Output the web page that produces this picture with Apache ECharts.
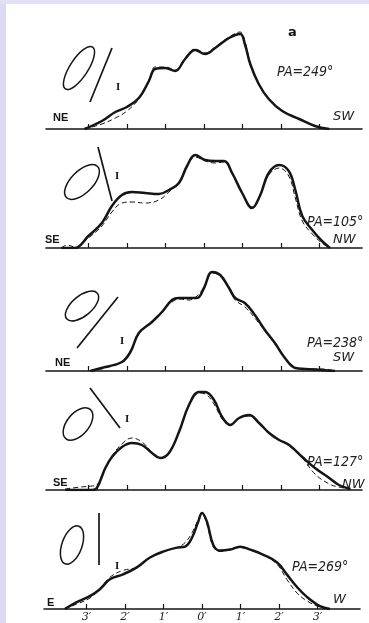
<!DOCTYPE html>
<html>
<head>
<meta charset="utf-8">
<script src="https://cdn.jsdelivr.net/npm/echarts@6/dist/echarts.min.js"></script>
<style>
  html, body { margin: 0; padding: 0; background: #fff; }
  #chart { width: 369px; height: 623px; }
</style>
</head>
<body>
<div id="chart"></div>
<script>
// offsets in arcmin, intensity in % of panel height
var p1X = [-3.1, -2.65, -2.3, -2.0, -1.69, -1.43, -1.27, -1.0, -0.75, -0.49, -0.23, 0.03, 0.29, 0.65, 0.94, 1.06, 1.2, 1.42, 1.68, 2.03, 2.47, 2.88, 3.25];
var p1Solid = [0, 8, 17, 22, 31, 48, 60, 61, 58, 70, 79, 75, 81, 91, 95, 85, 65, 45, 30, 18, 10, 3, 0];
var p1Dash = [0, 5, 11, 18, 30, 47, 62, 62, 59, 71, 80, 76, 82, 92, 97, 88, 66, 45, 30, 18, 10, 3, 0];

var p2X = [-3.7, -3.55, -3.35, -3.0, -2.65, -2.39, -2.13, -1.87, -1.53, -1.17, -0.91, -0.65, -0.44, -0.23, 0.03, 0.29, 0.52, 0.73, 0.99, 1.25, 1.45, 1.68, 1.95, 2.2, 2.37, 2.55, 2.81, 3.06, 3.27];
var p2Solid = [0, 0, 0, 12, 25, 42, 53, 56, 55, 54, 58, 65, 82, 93, 88, 87, 87, 75, 55, 40, 52, 75, 83, 77, 58, 32, 18, 7, 0];
var p2Dash = [0, 3, 1, 10, 22, 36, 45, 46, 45, 48, 56, 66, 82, 91, 87, 85, 86, 74, 55, 41, 53, 73, 80, 72, 50, 27, 14, 5, 0];

var p3X = [-2.95, -2.56, -2.13, -1.91, -1.69, -1.35, -1.09, -0.83, -0.65, -0.39, -0.18, 0, 0.21, 0.42, 0.65, 0.81, 1.06, 1.32, 1.58, 1.84, 2.1, 2.37, 2.63, 3.06, 3.4];
var p3Solid = [0, 4, 9, 19, 38, 49, 59, 71, 73, 73, 73, 83, 99, 96, 83, 73, 68, 56, 41, 28, 13, 3, 2, 1, 0];
var p3Dash = [0, 3, 9, 20, 37, 50, 60, 69, 72, 71, 75, 84, 98, 95, 82, 71, 64, 53, 40, 27, 13, 4, 2, 2, 0];

var p4X = [-3.6, -3.2, -2.9, -2.78, -2.56, -2.39, -2.13, -1.87, -1.61, -1.35, -1.14, -0.91, -0.65, -0.39, -0.13, 0.03, 0.26, 0.47, 0.68, 0.91, 1.17, 1.43, 1.69, 1.95, 2.21, 2.55, 2.88, 3.25, 3.5, 3.8];
var p4Solid = [0, 0, 0, 2, 22, 33, 43, 47, 45, 37, 32, 37, 58, 85, 98, 98, 90, 73, 65, 72, 75, 67, 57, 50, 45, 33, 22, 12, 5, 1];
var p4Dash = [1, 3, 4, 5, 22, 34, 46, 52, 48, 38, 32, 37, 58, 85, 97, 96, 86, 71, 65, 72, 74, 66, 57, 50, 44, 32, 16, 6, 3, 1];

var p5X = [-3.56, -3.25, -2.91, -2.65, -2.39, -2.05, -1.69, -1.35, -1.01, -0.65, -0.44, -0.26, -0.1, 0, 0.13, 0.29, 0.47, 0.73, 0.99, 1.25, 1.58, 1.95, 2.2, 2.47, 2.73, 3.06, 3.32];
var p5Solid = [0, 7, 13, 20, 30, 35, 42, 52, 58, 62, 63, 72, 88, 97, 88, 65, 59, 60, 63, 60, 55, 47, 35, 22, 12, 3, 0];
var p5Dash = [0, 5, 11, 20, 32, 39, 42, 52, 58, 62, 67, 77, 90, 96, 85, 63, 58, 60, 62, 60, 55, 45, 30, 16, 8, 2, 0];

var tickValues = [-3, -2, -1, 0, 1, 2, 3];
var paLabels = ['PA=249°', 'PA=105°', 'PA=238°', 'PA=127°', 'PA=269°'];
var leftDirs = ['NE', 'SE', 'NE', 'SE', 'E'];
var rightDirs = ['SW', 'NW', 'SW', 'NW', 'W'];

var panels = [
    {x: p1X, solid: p1Solid, dash: p1Dash},
    {x: p2X, solid: p2Solid, dash: p2Dash},
    {x: p3X, solid: p3Solid, dash: p3Dash},
    {x: p4X, solid: p4Solid, dash: p4Dash},
    {x: p5X, solid: p5Solid, dash: p5Dash}
];

var baselines = [129, 248, 371, 490, 610];
var lefts = [46, 46, 46, 46, 44];
var ink = '#151515';

function pairs(xs, ys) {
    return xs.map(function (x, i) { return [x, ys[i]]; });
}

var grids = [], xAxes = [], yAxes = [], series = [];
panels.forEach(function (p, i) {
    grids.push({left: lefts[i], top: baselines[i] - 100, width: 316, height: 100});
    xAxes.push({
        type: 'value', gridIndex: i, min: -4.1, max: 4.1,
        axisLine: {lineStyle: {color: ink, width: 1.6}},
        axisTick: {customValues: tickValues, inside: true, length: 5, lineStyle: {color: ink, width: 1.2}},
        axisLabel: {
            show: i === 4, customValues: tickValues, margin: 3,
            fontSize: 11, fontStyle: 'italic', color: '#222', fontFamily: 'DejaVu Serif',
            formatter: function (v) { return Math.abs(v) + '′'; }
        },
        splitLine: {show: false}
    });
    yAxes.push({type: 'value', gridIndex: i, min: 0, max: 100, show: false});
    series.push({
        type: 'line', xAxisIndex: i, yAxisIndex: i, data: pairs(p.x, p.dash),
        symbol: 'none', smooth: 0.4, z: 2,
        lineStyle: {color: ink, width: 1, type: [5, 3]}
    });
    series.push({
        type: 'line', xAxisIndex: i, yAxisIndex: i, data: pairs(p.x, p.solid),
        symbol: 'none', smooth: 0.4, z: 3,
        lineStyle: {color: ink, width: 2.5}
    });
});

// orientation sketches: ellipse, slit line, roman numeral
var sketches = [
    {cx: 79, cy: 68, rx: 25, ry: 9, rot: 57, line: [112, 48, 90, 102], mark: [118, 88]},
    {cx: 82, cy: 182, rx: 22, ry: 11, rot: 45, line: [98, 147, 112, 201], mark: [117, 177]},
    {cx: 82, cy: 306, rx: 20, ry: 10, rot: 40, line: [118, 297, 77, 348], mark: [122, 342]},
    {cx: 78, cy: 424, rx: 19, ry: 11, rot: 50, line: [90, 388, 120, 428], mark: [127, 420]},
    {cx: 72, cy: 545, rx: 20, ry: 10, rot: 70, line: [99, 513, 99, 565], mark: [117, 567]}
];
var paPos = [[277, 72], [307, 222], [307, 343], [307, 462], [292, 567]];
var leftPos = [[53, 118], [45, 240], [55, 363], [53, 483], [47, 603]];
var rightPos = [[333, 117], [333, 240], [333, 358], [342, 485], [333, 600]];

var graphic = [
    {type: 'rect', left: 0, top: 0, shape: {width: 6, height: 623}, style: {fill: '#dcdaf3'}, silent: true},
    {type: 'rect', left: 0, top: 0, shape: {width: 369, height: 4}, style: {fill: '#e2e0f5'}, silent: true},
    {type: 'text', x: 288, y: 26, style: {text: 'a', font: 'bold 13px "DejaVu Sans"', fill: ink}}
];
sketches.forEach(function (s, i) {
    graphic.push({
        type: 'ellipse', x: s.cx, y: s.cy, rotation: s.rot * Math.PI / 180,
        shape: {cx: 0, cy: 0, rx: s.rx, ry: s.ry},
        style: {fill: 'none', stroke: ink, lineWidth: 1.5}
    });
    graphic.push({
        type: 'line',
        shape: {x1: s.line[0], y1: s.line[1], x2: s.line[2], y2: s.line[3]},
        style: {stroke: ink, lineWidth: 1.7}
    });
    graphic.push({
        type: 'text', x: s.mark[0], y: s.mark[1],
        style: {text: 'I', font: 'bold 9px "DejaVu Serif"', fill: ink, align: 'center', verticalAlign: 'middle'}
    });
    graphic.push({
        type: 'text', x: paPos[i][0], y: paPos[i][1],
        style: {text: paLabels[i], font: 'italic 14px "DejaVu Sans Condensed", "DejaVu Sans"', fill: '#222', verticalAlign: 'middle'}
    });
    graphic.push({
        type: 'text', x: leftPos[i][0], y: leftPos[i][1],
        style: {text: leftDirs[i], font: 'bold 11px "Liberation Sans"', fill: ink, verticalAlign: 'middle'}
    });
    graphic.push({
        type: 'text', x: rightPos[i][0], y: rightPos[i][1],
        style: {text: rightDirs[i], font: 'italic 13px "DejaVu Sans"', fill: '#222', verticalAlign: 'middle'}
    });
});

var myChart = echarts.init(document.getElementById('chart'));
myChart.setOption({
    backgroundColor: '#fff',
    animation: false,
    grid: grids,
    xAxis: xAxes,
    yAxis: yAxes,
    series: series,
    graphic: graphic
});
</script>
</body>
</html>
